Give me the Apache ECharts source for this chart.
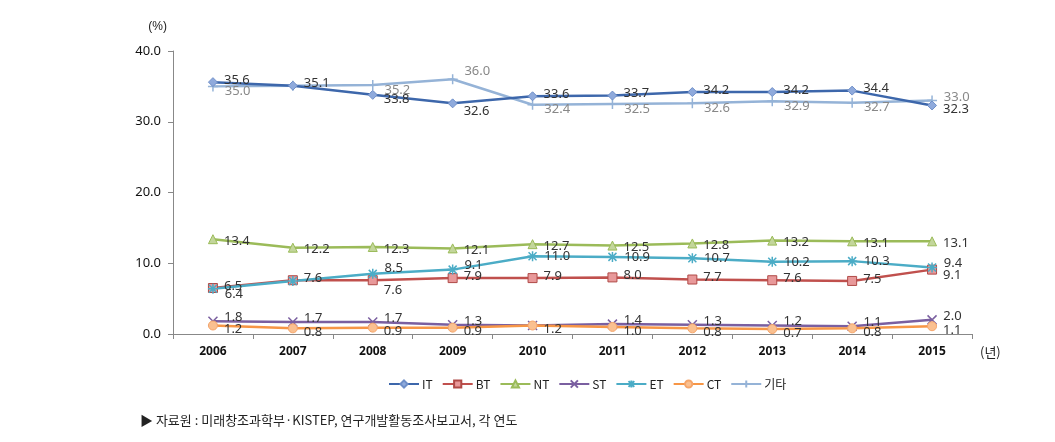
<!DOCTYPE html>
<html><head><meta charset="utf-8">
<script src="https://cdn.jsdelivr.net/npm/echarts@6/dist/echarts.min.js"></script>
<style>html,body{margin:0;padding:0;background:#fff;}#c{width:1055px;height:442px;}</style>
</head><body><div id="c"></div>
<script>
const years = ['2006','2007','2008','2009','2010','2011','2012','2013','2014','2015'];
const seriesNames = ['IT','BT','NT','ST','ET','CT','기타'];
const IT = [35.6,35.1,33.8,32.6,33.6,33.7,34.2,34.2,34.4,32.3];
const BT = [6.5,7.6,7.6,7.9,7.9,8.0,7.7,7.6,7.5,9.1];
const NT = [13.4,12.2,12.3,12.1,12.7,12.5,12.8,13.2,13.1,13.1];
const ST = [1.8,1.7,1.7,1.3,1.2,1.4,1.3,1.2,1.1,2.0];
const ET = [6.4,7.5,8.5,9.1,11.0,10.9,10.7,10.2,10.3,9.4];
const CT = [1.2,0.8,0.9,0.9,1.2,1.0,0.8,0.7,0.8,1.1];
const ETC = [35.0,35.1,35.2,36.0,32.4,32.5,32.6,32.9,32.7,33.0];
const yTicks = [0,10,20,30,40];

const styles = {
  'IT': {line:'#3D67AB', fill:'#8FAADC', border:'#6F8FC8', symbol:'diamond', size:9, lbl:'#333', off:[0,-2]},
  'BT': {line:'#C0504D', fill:'#E8999A', border:'#B04A47', symbol:'rect', size:9, lbl:'#333', off:[0,-2]},
  'NT': {line:'#9BBB59', fill:'#C3D69B', border:'#9BBB59', symbol:'triangle', size:9, lbl:'#333', off:[0,2]},
  'ST': {line:'#7A5FA0', fill:'#B3A2C7', border:'#8C78B0', symbol:'path://M0,0L10,10M10,0L0,10', size:9, lbl:'#333', off:[0,-4]},
  'ET': {line:'#4BACC6', fill:'#4BACC6', border:'#4BACC6', symbol:'path://M0,5L10,5M5,0L5,10M1,1L9,9M9,1L1,9', size:10, lbl:'#333', off:[0,0]},
  'CT': {line:'#F79646', fill:'#FAC090', border:'#F5A56A', symbol:'circle', size:9, lbl:'#333', off:[0,4]},
  '기타': {line:'#95B3D7', fill:'#95B3D7', border:'#7F9FCC', symbol:'path://M0,5L10,5M5,0L5,10', size:10, lbl:'#888', off:[0,5]}
};
const dataMap = {'IT':IT,'BT':BT,'NT':NT,'ST':ST,'ET':ET,'CT':CT,'기타':ETC};
// per-point label tweaks (style only)
const tweaks = {
  'IT': {2:{offset:[0,4]},3:{offset:[0,8]},9:{offset:[0,4]}},
  'BT': {2:{offset:[0,10]},9:{offset:[0,6]}},
  'ET': {0:{offset:[0,6]},1:{show:false},2:{offset:[0,-6]},3:{offset:[0,-4]},9:{offset:[0,-4]}},
  'ST': {4:{show:false}},
  'CT': {},
  '기타': {1:{show:false},3:{offset:[0,-8]},9:{offset:[0,-3]}}
};
const series = seriesNames.map(n => {
  const s = styles[n];
  const isPath = s.symbol.startsWith('path');
  return {
    name:n, type:'line', data: dataMap[n].map((v,i)=>{
      const t = tweaks[n] && tweaks[n][i];
      return t ? {value:v, label:t} : v;
    }),
    symbol:s.symbol, symbolSize:s.size, showAllSymbol:true,
    lineStyle:{color:s.line, width:2.5},
    itemStyle:{color:isPath? s.line : s.fill, borderColor:isPath? s.line : s.border, borderWidth: isPath?1.5:1},
    label:{show:true, position:'right', distance:6, offset:s.off, color:s.lbl, fontSize:13, fontFamily:'Noto Sans, sans-serif',
      formatter: p => Number(p.value).toFixed(1)},
    z: n==='IT'?5:3,
    emphasis:{disabled:true}, animation:false
  };
});

const chart = echarts.init(document.getElementById('c'), null, {renderer:'canvas'});
chart.setOption({
  animation:false,
  grid:{left:173, right:83, top:51, bottom:108, containLabel:false},
  legend:{
    top:373, left:383, itemWidth:30, itemHeight:9, itemGap:9,
    textStyle:{fontSize:12, color:'#222', fontFamily:'Noto Sans CJK KR, sans-serif', padding:[0,0,0,-2]},
    data: seriesNames
  },
  xAxis:{
    type:'category', data:years, boundaryGap:true,
    axisLine:{lineStyle:{color:'#888'}},
    axisTick:{show:true, length:5, lineStyle:{color:'#888'}},
    axisLabel:{color:'#111', fontSize:12, fontWeight:'bold', margin:12, fontFamily:'Noto Sans, sans-serif'},
    name:'(년)', nameLocation:'end', nameGap:8,
    nameTextStyle:{fontSize:13, color:'#222', verticalAlign:'top', padding:[12,0,0,0], fontFamily:'Noto Sans CJK KR, sans-serif'}
  },
  yAxis:{
    type:'value', min:yTicks[0], max:yTicks[yTicks.length-1], interval:10,
    splitLine:{show:false},
    axisLine:{show:true, lineStyle:{color:'#888'}},
    axisTick:{show:true, length:5, lineStyle:{color:'#888'}},
    axisLabel:{color:'#111', fontSize:13, margin:12, formatter:v=>v.toFixed(1), fontFamily:'Noto Sans, sans-serif'},
    name:'(%)', nameLocation:'end', nameGap:18,
    nameTextStyle:{fontSize:12, color:'#222', align:'right', padding:[0,6,0,0]}
  },
  graphic:[{type:'text', left:140, top:414, style:{text:'▶ 자료원 : 미래창조과학부·KISTEP, 연구개발활동조사보고서, 각 연도', fontSize:13, fill:'#222', fontFamily:'Noto Sans CJK KR, sans-serif'}}],
  series
});
</script></body></html>
